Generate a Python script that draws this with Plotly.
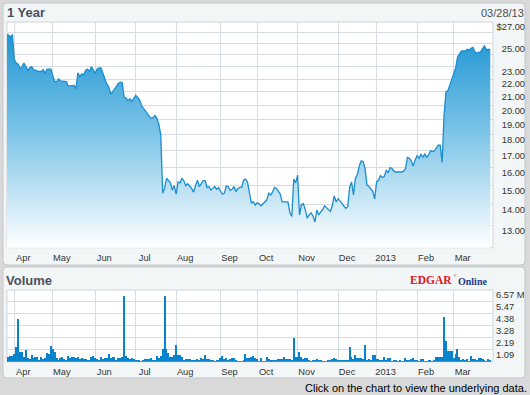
import math
import plotly.graph_objects as go

W, H = 530, 395
FONT = "Liberation Sans, Arial, sans-serif"
GRID = "#d8dde4"

# ---------------- data ----------------
month_labels = ["Apr", "May", "Jun", "Jul", "Aug", "Sep", "Oct", "Nov", "Dec", "2013", "Feb", "Mar"]
# trading-day index of the first session of each month (index 0 = 03/28/12)
month_start_idx = [4, 24, 46, 67, 88, 111, 130, 151, 172, 192, 213, 232]

price = [
    25.8, 25.75, 25.6, 25.8, 23.6, 23.3, 23.2, 22.85, 23.0, 23.3,
    23.0, 22.7, 22.9, 23.0, 22.75, 22.7, 22.6, 22.6, 22.6, 22.75,
    22.45, 22.8, 22.8, 22.8, 22.25, 21.8, 21.8, 22.0, 21.85, 21.85,
    21.85, 21.8, 21.45, 21.45, 21.45, 21.5, 21.25, 22.5, 22.2, 22.4,
    22.3, 22.7, 22.8, 22.6, 23.0, 22.75, 22.45, 22.8, 22.9, 22.9,
    22.45, 21.9, 21.6, 21.4, 20.85, 21.0, 21.2, 21.45, 21.65, 21.75,
    21.7, 20.6, 20.55, 20.35, 20.5, 20.3, 20.5, 20.75, 20.6, 20.4,
    20.0, 19.8, 19.55, 19.4, 19.25, 19.1, 19.15, 19.3, 19.1, 18.7,
    18.0, 14.6, 14.85, 15.4, 15.3, 15.15, 14.76, 15.0, 14.55, 15.2,
    15.15, 15.4, 15.25, 15.0, 15.1, 14.98, 14.85, 14.65, 15.05, 15.3,
    14.95, 15.1, 15.27, 15.27, 14.9, 14.95, 14.76, 14.85, 14.95, 14.8,
    14.9, 14.7, 14.55, 14.6, 14.98, 14.95, 14.75, 14.8, 14.95, 14.68,
    14.85, 14.9, 14.9, 15.3, 15.35, 15.2, 14.65, 14.1, 14.15, 13.98,
    14.1, 14.05, 13.95, 14.05, 14.1, 14.24, 14.6, 14.5, 14.65, 14.9,
    14.85, 14.7, 14.55, 14.15, 14.15, 14.15, 14.15, 13.6, 13.42, 15.35,
    15.15, 15.58, 13.5, 14.0, 14.05, 13.75, 13.35, 13.5, 13.6, 13.45,
    13.16, 13.74, 13.5, 13.65, 13.75, 13.95, 13.85, 13.74, 13.67, 13.95,
    14.45, 14.15, 14.3, 14.2, 14.1, 13.95, 13.82, 13.9, 14.9, 15.2,
    14.5, 15.4, 15.6, 16.1, 16.4, 16.35, 15.95, 15.03, 14.95, 14.85,
    14.7, 14.3, 15.2, 15.3, 15.55, 15.45, 15.5, 15.86, 15.7, 16.0,
    15.95, 15.8, 15.75, 15.75, 15.75, 15.75, 15.8, 15.95, 16.6, 16.55,
    16.4, 16.1, 16.45, 16.7, 16.55, 16.8, 16.6, 16.8, 16.6, 16.75,
    17.0, 16.95, 17.0, 17.15, 17.35, 17.35, 16.3, 19.3, 21.0, 21.1,
    21.5, 22.06, 22.32, 22.86, 23.8, 24.13, 24.33, 24.33, 24.33, 24.48,
    24.4, 24.57, 24.65, 24.27, 24.13, 24.2, 24.25, 24.57, 24.77, 24.42,
    24.48, 24.42,
]

volume_m = [
    0.40, 0.43, 0.52, 0.52, 0.70, 1.34, 3.89, 0.88, 0.88, 0.43,
    1.06, 0.33, 0.24, 0.61, 0.33, 0.43, 0.43, 0.15, 0.43, 0.24,
    0.33, 0.79, 0.73, 1.43, 1.16, 0.88, 0.33, 0.15, 0.33, 0.43,
    0.24, 0.15, 0.52, 0.33, 0.43, 0.43, 0.33, 0.43, 0.24, 0.33,
    0.24, 0.24, 0.15, 0.15, 0.43, 0.52, 0.33, 0.24, 0.15, 0.43,
    0.24, 0.33, 0.33, 0.70, 0.33, 0.43, 0.43, 0.15, 0.33, 0.30,
    0.40, 5.99, 0.52, 0.33, 0.24, 0.33, 0.24, 0.15, 0.15, 0.15,
    0.06, 0.15, 0.24, 0.24, 0.24, 0.33, 0.15, 0.15, 0.52, 0.33,
    0.52, 1.16, 5.99, 1.16, 0.79, 0.43, 0.43, 0.61, 1.52, 0.61,
    0.61, 0.43, 0.15, 0.24, 0.24, 0.24, 0.15, 0.15, 0.15, 0.24,
    0.15, 0.33, 0.24, 0.61, 0.24, 0.24, 0.15, 0.15, 0.06, 0.15,
    0.15, 0.33, 0.52, 0.24, 0.33, 0.15, 0.24, 0.33, 0.33, 0.15,
    0.06, 0.06, 0.06, 0.15, 0.70, 0.33, 0.33, 0.43, 0.52, 0.33,
    0.24, 0.06, 0.33, 0.06, 0.06, 0.43, 0.24, 0.15, 0.15, 0.15,
    0.15, 0.24, 0.24, 0.24, 0.43, 0.24, 0.24, 0.24, 0.15, 2.16,
    0.43, 0.43, 0.88, 0.43, 0.24, 0.33, 0.33, 0.15, 0.06, 0.15,
    0.15, 0.24, 0.15, 0.15, 0.06, 0.06, 0.06, 0.15, 0.15, 0.24,
    0.33, 0.24, 0.15, 0.15, 0.15, 0.15, 0.15, 0.15, 1.34, 0.43,
    0.24, 0.61, 0.33, 0.33, 0.33, 0.24, 1.52, 0.15, 0.24, 0.15,
    0.61, 0.61, 0.24, 0.24, 0.15, 0.15, 0.43, 0.15, 0.33, 0.33,
    0.06, 0.15, 0.15, 0.06, 0.15, 0.06, 0.06, 0.33, 0.15, 0.15,
    0.24, 0.33, 0.15, 0.15, 0.06, 0.24, 0.24, 0.06, 0.06, 0.15,
    0.15, 0.06, 0.15, 0.43, 0.43, 0.43, 0.43, 4.07, 1.88, 0.97,
    0.97, 0.97, 0.33, 0.70, 1.16, 0.43, 0.15, 0.24, 0.15, 0.24,
    0.06, 0.52, 0.24, 0.24, 0.15, 0.33, 0.33, 0.24, 0.15, 0.06,
    0.24, 0.15,
]

price_ticks = [13, 14, 15, 16, 17, 18, 19, 20, 21, 22, 23, 25, 27]
price_tick_text = ["13.00", "14.00", "15.00", "16.00", "17.00", "18.00", "19.00",
                   "20.00", "21.00", "22.00", "23.00", "25.00", "$27.00"]
price_unlabeled_grid = [24, 26]
price_floor = 12
vol_grid = [1.095, 2.19, 3.285, 4.38, 5.475, 6.57]
vol_tick_text = ["1.09", "2.19", "3.28", "4.38", "5.47", "6.57 M"]

# ---------------- helpers (pixel -> paper) ----------------
def fx(p):
    return p / W


def fy(p):
    return 1 - p / H


def rrect(x0, y0, x1, y1, r):
    X0, X1, Y0, Y1 = fx(x0), fx(x1), fy(y0), fy(y1)
    rx, ry = r / W, r / H
    return (f"M{X0+rx},{Y0} L{X1-rx},{Y0} Q{X1},{Y0} {X1},{Y0-ry} "
            f"L{X1},{Y1+ry} Q{X1},{Y1} {X1-rx},{Y1} L{X0+rx},{Y1} "
            f"Q{X0},{Y1} {X0},{Y1+ry} L{X0},{Y0-ry} Q{X0},{Y0} {X0+rx},{Y0} Z")


PL, PR = 7, 493
P_TOP, P_BOT = 22, 247.7
V_TOP, V_BOT = 290, 361.7

idx = list(range(len(price)))

fig = go.Figure()
fig.add_trace(go.Scatter(
    x=idx, y=price, mode="lines",
    line=dict(color="#1a8dd0", width=1.3),
    fill="tozeroy",
    fillgradient=dict(type="vertical",
                      colorscale=[[0, "#ffffff"], [0.55, "#7ac3e7"], [1, "#2196d3"]],
                      start=price_floor, stop=max(price)),
    xaxis="x", yaxis="y", hoverinfo="skip",
))
fig.add_trace(go.Bar(
    x=idx, y=volume_m, width=0.6,
    marker=dict(color="#0683cc", line=dict(width=0)),
    xaxis="x2", yaxis="y2", hoverinfo="skip",
))

tickfont = dict(family=FONT, size=9.3, color="#333333")
common_x = dict(
    domain=[fx(PL), fx(PR)], range=[0.21, 252.4],
    tickmode="array", tickvals=month_start_idx, ticktext=month_labels,
    showgrid=True, gridcolor=GRID, gridwidth=1, zeroline=False, showline=False,
    ticks="", tickfont=tickfont, ticklabelshift=9, ticklabelstandoff=3,
    fixedrange=True,
)

shapes = [
    dict(type="path", path=rrect(3, 3, 525, 265, 4), xref="paper", yref="paper",
         fillcolor="#f3f6f6", line=dict(color="#c3c7cb", width=1), layer="below"),
    dict(type="path", path=rrect(3, 267, 525, 378, 4), xref="paper", yref="paper",
         fillcolor="#f3f6f6", line=dict(color="#c3c7cb", width=1), layer="below"),
    dict(type="rect", x0=fx(PL), x1=fx(PR), y0=fy(P_BOT), y1=fy(P_TOP), xref="paper", yref="paper",
         fillcolor="#ffffff", line=dict(color="#cfd4db", width=1), layer="below"),
    dict(type="rect", x0=fx(PL), x1=fx(PR), y0=fy(V_BOT), y1=fy(V_TOP), xref="paper", yref="paper",
         fillcolor="#ffffff", line=dict(color="#cfd4db", width=1), layer="below"),
]

annotations = [
    dict(text="<b>1 Year</b>", x=fx(6), y=fy(12.5), xanchor="left", yanchor="middle",
         font=dict(family=FONT, size=13, color="#4a505e")),
    dict(text="03/28/13", x=fx(524.5), y=fy(13.3), xanchor="right", yanchor="middle",
         font=dict(family=FONT, size=11, color="#4d4d4d")),
    dict(text="<b>Volume</b>", x=fx(5), y=fy(280.5), xanchor="left", yanchor="middle",
         font=dict(family=FONT, size=13, color="#4a505e")),
    dict(text="<b>EDGAR</b>", x=fx(409), y=fy(279.5), xanchor="left", yanchor="middle",
         font=dict(family="Liberation Serif, serif", size=11.5, color="#e3141c")),
    dict(text="®", x=fx(451.5), y=fy(275), xanchor="left", yanchor="middle",
         font=dict(family="Liberation Serif, serif", size=5, color="#e3141c")),
    dict(text="<b>Online</b>", x=fx(457), y=fy(281), xanchor="left", yanchor="middle",
         font=dict(family="Liberation Serif, serif", size=10, color="#1c3a8a")),
    dict(text="Click on the chart to view the underlying data.", x=fx(528), y=fy(388),
         xanchor="right", yanchor="middle",
         font=dict(family=FONT, size=11, color="#000000")),
]
for a in annotations:
    a.update(xref="paper", yref="paper", showarrow=False, borderpad=0)

fig.update_layout(
    width=W, height=H, margin=dict(l=0, r=0, t=0, b=0, autoexpand=False),
    paper_bgcolor="#d9d9d9", plot_bgcolor="rgba(0,0,0,0)",
    showlegend=False, bargap=0,
    xaxis=dict(anchor="y", **common_x),
    xaxis2=dict(anchor="y2", **common_x),
    yaxis=dict(
        type="log", domain=[fy(P_BOT), fy(P_TOP)],
        range=[math.log10(price_floor), math.log10(27)],
        tickmode="array", tickvals=price_ticks, ticktext=price_tick_text,
        minor=dict(tickmode="array", tickvals=price_unlabeled_grid, showgrid=True,
                   gridcolor=GRID, gridwidth=1, ticks=""),
        side="left", anchor="free", position=fx(525),
        showgrid=True, gridcolor=GRID, gridwidth=1, zeroline=False, showline=False,
        ticks="", tickfont=tickfont, ticklabelshift=5, ticklabelstandoff=0,
        fixedrange=True,
    ),
    yaxis2=dict(
        domain=[fy(V_BOT), fy(V_TOP)], range=[0, 6.57],
        tickmode="array", tickvals=vol_grid, ticktext=vol_tick_text,
        side="right", anchor="x2",
        showgrid=True, gridcolor=GRID, gridwidth=1, zeroline=False, showline=False,
        ticks="", tickfont=tickfont, ticklabelshift=5, ticklabelstandoff=2,
        fixedrange=True,
    ),
    shapes=shapes, annotations=annotations,
)

fig.write_html("out.html")
